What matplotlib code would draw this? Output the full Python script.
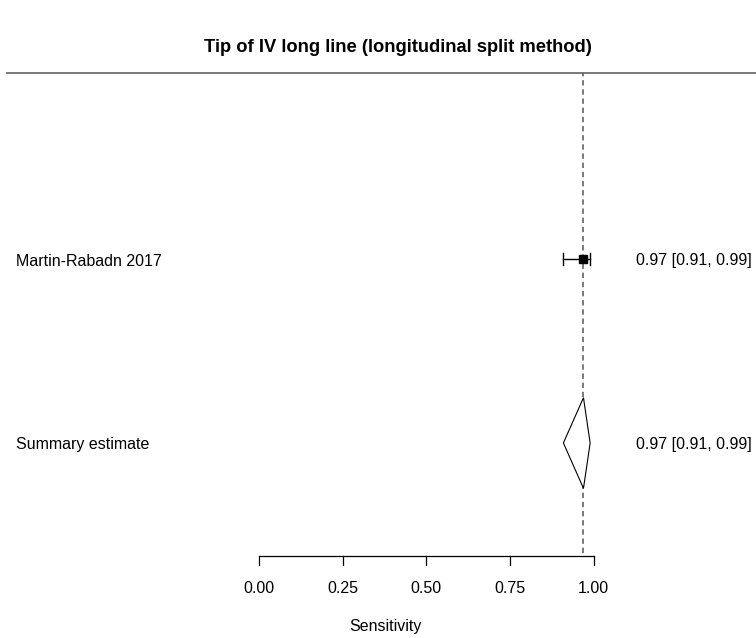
import matplotlib
matplotlib.use("Agg")
import matplotlib.pyplot as plt
import numpy as np

plt.rcParams['font.family'] = ['Liberation Sans', 'DejaVu Sans']

title = "Tip of IV long line (longitudinal split method)"
study_labels = ["Martin-Rabadn 2017"]
study_est = [0.97]
study_lo = [0.91]
study_hi = [0.99]
summary_label = "Summary estimate"
summary_est = 0.97
summary_lo = 0.91
summary_hi = 0.99
xticks = [0.0, 0.25, 0.5, 0.75, 1.0]
xtick_labels = ["0.00", "0.25", "0.50", "0.75", "1.00"]
xlabel = "Sensitivity"

W, H = 756, 638
fig = plt.figure(figsize=(W / 100, H / 100), dpi=100)
ax = fig.add_axes([0, 0, 1, 1])
ax.set_axis_off()

# pixel mapping: x=0 -> 259px, x=1 -> 593.5px ; y: row 0 -> 443px, 1 unit = 92.5px
x0px, xscale = 259.0, 334.5
y0px, yscale = 443.0, 92.5
ax.set_xlim(-x0px / xscale, (W - x0px) / xscale)
ax.set_ylim((y0px - H) / yscale, y0px / yscale)

xmin, xmax = ax.get_xlim()
label_x = xmin + 16 / xscale
right_x = xmin + 752 / xscale
fs = 11.5
tdy = -2 / yscale  # small text baseline offset

n = len(study_labels)
study_rows = [2 * (n - i) for i in range(n)]
summary_row = 0
top_y = study_rows[0] + 2
axis_y = -1.22

# top horizontal line
ax.plot([xmin + 6 / xscale, xmax], [top_y, top_y], color="#555555", lw=1.1, solid_capstyle="butt")
# reference dashed line
ax.plot([summary_est, summary_est], [axis_y + 0.03, top_y], color="#555555", lw=1.1,
        linestyle=(0, (3.5, 2.5)))

# studies
for lab, est, lo, hi, r in zip(study_labels, study_est, study_lo, study_hi, study_rows):
    r = r - 1 / yscale
    ax.plot([lo, hi], [r, r], color="black", lw=1.0)
    for v in (lo, hi):
        ax.plot([v, v], [r - 0.06, r + 0.06], color="black", lw=1.0)
    ax.plot([est], [r], marker="s", color="black", markersize=6)
    ax.text(label_x, r + tdy, lab, ha="left", va="center", fontsize=fs)
    ax.text(right_x, r + tdy, f"{est:.2f} [{lo:.2f}, {hi:.2f}]", ha="right", va="center", fontsize=fs)

# summary diamond
half = 0.49
ax.fill([summary_est, summary_hi, summary_est, summary_lo],
        [summary_row + half, summary_row, summary_row - half, summary_row],
        facecolor="white", edgecolor="black", lw=0.8, zorder=3)
ax.text(label_x, summary_row + tdy, summary_label, ha="left", va="center", fontsize=fs)
ax.text(right_x, summary_row + tdy, f"{summary_est:.2f} [{summary_lo:.2f}, {summary_hi:.2f}]",
        ha="right", va="center", fontsize=fs)

# x axis
ax.plot([xticks[0], xticks[-1]], [axis_y, axis_y], color="black", lw=0.9)
tick_len = 9.5 / yscale
for t, tl in zip(xticks, xtick_labels):
    ax.plot([t, t], [axis_y, axis_y - tick_len], color="black", lw=0.9)
    ax.text(t, axis_y - 33 / yscale, tl, ha="center", va="center", fontsize=fs)
ax.text((385 - x0px) / xscale, axis_y - 71 / yscale, xlabel, ha="center", va="center", fontsize=fs)

ax.text((398 - x0px) / xscale, (y0px - 48) / yscale, title, ha="center", va="center",
        fontsize=13.2, fontweight="bold")

fig.savefig("out.png", dpi=100)
